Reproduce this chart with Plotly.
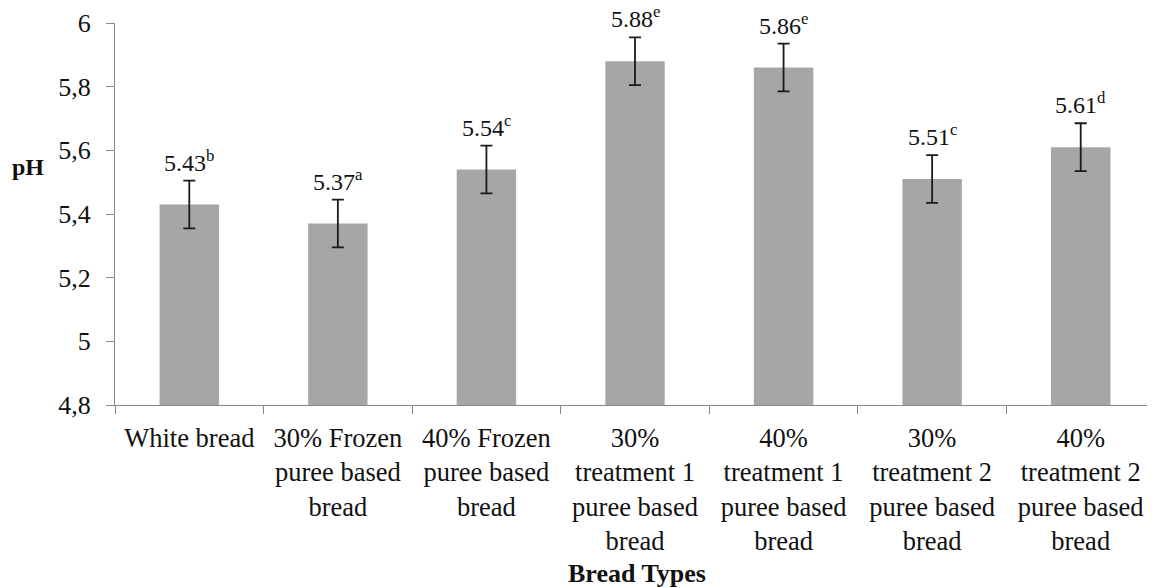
import plotly.graph_objects as go

categories = ["White bread", "30% Frozen", "40% Frozen", "30% T1", "40% T1", "30% T2", "40% T2"]
tick_labels = [
    "White bread",
    "30% Frozen<br>puree based<br>bread",
    "40% Frozen<br>puree based<br>bread",
    "30%<br>treatment 1<br>puree based<br>bread",
    "40%<br>treatment 1<br>puree based<br>bread",
    "30%<br>treatment 2<br>puree based<br>bread",
    "40%<br>treatment 2<br>puree based<br>bread",
]
ph_values = [5.43, 5.37, 5.54, 5.88, 5.86, 5.51, 5.61]
ph_errors = [0.075, 0.075, 0.075, 0.075, 0.075, 0.075, 0.075]
sig_letters = ["b", "a", "c", "e", "e", "c", "d"]

FONT = "Liberation Serif"
TEXT = "#111111"

fig = go.Figure()
fig.add_trace(go.Bar(
    x=categories, y=ph_values, width=0.4,
    marker=dict(color="#a6a6a6", line=dict(width=0)),
    error_y=dict(type="data", array=ph_errors, visible=True,
                 color="#1a1a1a", thickness=1.8, width=6),
    showlegend=False,
))

for c, v, e, s in zip(categories, ph_values, ph_errors, sig_letters):
    fig.add_annotation(x=c, y=v + e, text=f"{v:.2f}<sup>{s}</sup>",
                       showarrow=False, xanchor="center", yanchor="bottom", yshift=3,
                       font=dict(family=FONT, size=24, color=TEXT))

fig.add_annotation(xref="paper", yref="paper", x=-0.0832, y=0.623,
                   xanchor="center", yanchor="middle",
                   text="<b>pH</b>", showarrow=False,
                   font=dict(family=FONT, size=24, color=TEXT))
fig.add_annotation(xref="paper", yref="paper", x=0.502, y=-0.44,
                   xanchor="center", yanchor="middle",
                   text="<b>Bread Types</b>", showarrow=False,
                   font=dict(family=FONT, size=26, color=TEXT))

fig.update_layout(
    width=1147, height=580,
    margin=dict(l=107, r=0, t=15, b=183),
    paper_bgcolor="white", plot_bgcolor="white",
    separators=",.",
    bargap=0.6,
)
fig.update_xaxes(
    tickmode="array", tickvals=categories, ticktext=tick_labels,
    tickson="boundaries", ticks="outside", ticklen=8, tickcolor="#868686",
    showline=True, linecolor="#868686", linewidth=1.3,
    showgrid=False, tickfont=dict(family=FONT, size=26.5, color=TEXT),
    tickangle=0, automargin=False, ticklabelstandoff=9,
)
fig.update_yaxes(
    range=[4.8, 6], dtick=0.2, tick0=4.8,
    ticks="outside", ticklen=8, tickcolor="#868686",
    showline=True, linecolor="#868686", linewidth=1.3,
    showgrid=False, zeroline=False,
    tickfont=dict(family=FONT, size=26, color=TEXT),
    ticklabelstandoff=10, automargin=False,
)

fig.write_html("out.html")
